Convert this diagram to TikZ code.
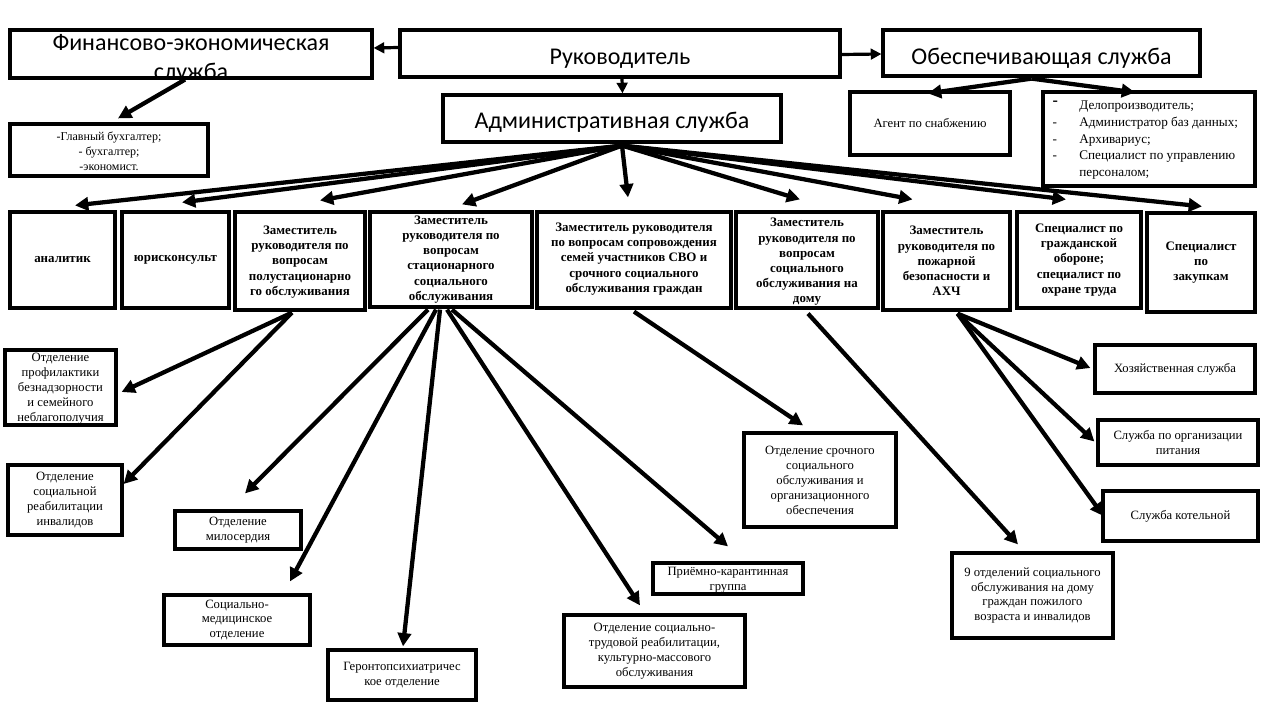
\documentclass[tikz,border=0pt]{standalone}
\usepackage{fontspec}
\setmainfont{Liberation Serif}
\newfontfamily\bigsans{Carlito}
\usetikzlibrary{arrows.meta}
\newcommand{\bx}[5]{\node[box, minimum width={(#4-#2)*0.75pt}, minimum height={(#5-#3)*0.75pt}] (#1) at ({(#2+#4)/2},{(#3+#5)/2}) {};}
\tikzset{
  box/.style={draw, line width=2.4pt, inner sep=0pt, fill=white},
  bigtxt/.style={font=\bigsans\fontsize{18}{22}\selectfont, align=center, inner sep=0pt},
  smalltxt/.style={font=\fontsize{9.5}{11.2}\selectfont, align=center, inner sep=0pt},
  boldtxt/.style={font=\bfseries\fontsize{9.7}{11.4}\selectfont, align=center, inner sep=0pt},
  arr/.style={line width=3.2pt, -{Triangle[length=10pt,width=10pt]}},
  arrthin/.style={line width=2.4pt, -{Triangle[length=8pt,width=8pt]}},
}
\begin{document}
\begin{tikzpicture}[x=0.75pt,y=-0.75pt]
\useasboundingbox (0,0) rectangle (1280,720);
\fill[white] (0,0) rectangle (1280,720);
% top level
\bx{fin}{10}{30}{372}{78}
\bx{ruk}{400}{30}{840}{77}
\bx{obesp}{883}{30}{1200}{76}
\bx{admin}{443}{95}{781}{142}
\bx{glav}{10}{124}{208}{176}
\bx{agent}{850}{92}{1010}{155}
\bx{delo}{1043}{92}{1255}{186}
% row
\bx{analit}{10}{212}{115}{308}
\bx{jur}{122}{212}{229}{308}
\bx{za}{235}{212}{365}{310}
\bx{zb}{370}{212}{532}{307}
\bx{zc}{537}{212}{731}{308}
\bx{zd}{736}{212}{878}{308}
\bx{ze}{883}{212}{1010}{310}
\bx{go}{1017}{212}{1141}{308}
\bx{zak}{1147}{213}{1255}{312}
% lower
\bx{prof}{5}{350}{116}{425}
\bx{reab}{8}{465}{122}{535}
\bx{milo}{175}{511}{301}{549}
\bx{smed}{164}{595}{310}{645}
\bx{geron}{328}{650}{476}{700}
\bx{sro}{744}{433}{896}{527}
\bx{priem}{653}{563}{803}{594}
\bx{trud}{564}{615}{745}{687}
\bx{hoz}{1095}{345}{1255}{393}
\bx{pit}{1098}{420}{1258}{465}
\bx{kot}{1103}{491}{1258}{541}
\bx{nine}{952}{553}{1113}{638}

% texts
\node[bigtxt] (fin-t) at ([shift={(0,5)}]fin.center) {Финансово-экономическая\\служба};
\node[bigtxt] (ruk-t) at ([shift={(0,5)}]ruk.center) {Руководитель};
\node[bigtxt] (obesp-t) at ([shift={(0,5)}]obesp.center) {Обеспечивающая служба};
\node[bigtxt] (admin-t) at ([shift={(0,4)}]admin.center) {Административная служба};
\node[smalltxt, font=\fontsize{9}{11.2}\selectfont] (glav-t) at ([shift={(0,1)}]glav.center) {-Главный бухгалтер;\\- бухгалтер;\\-экономист.};
\node[smalltxt] (agent-t) at (agent.center) {Агент по снабжению};
\node[smalltxt, font=\fontsize{9.9}{12.6}\selectfont, anchor=north west, align=left] (delo-t) at ([shift={(11,7)}]delo.north west)
 {\begin{tabular}{@{}p{20pt}@{}l@{}}
  \raisebox{3pt}{\bfseries\large -} & Делопроизводитель;\\
  - & Администратор баз данных;\\
  - & Архивариус;\\
  - & Специалист по управлению\\
    & персоналом;
  \end{tabular}};
\node[boldtxt] (analit-t) at (analit.center) {аналитик};
\node[boldtxt] (jur-t) at (jur.center) {юрисконсульт};
\node[boldtxt] (za-t) at ([shift={(0,1)}]za.center) {Заместитель\\руководителя по\\вопросам\\полустационарно\\го обслуживания};
\node[boldtxt] (zb-t) at (zb.center) {Заместитель\\руководителя по\\вопросам\\стационарного\\социального\\обслуживания};
\node[boldtxt] (zc-t) at ([shift={(0,-1)}]zc.center) {Заместитель руководителя\\по вопросам сопровождения\\семей участников СВО и\\срочного социального\\обслуживания граждан};
\node[boldtxt] (zd-t) at ([shift={(0,2)}]zd.center) {Заместитель\\руководителя по\\вопросам\\социального\\обслуживания на\\дому};
\node[boldtxt] (ze-t) at (ze.center) {Заместитель\\руководителя по\\пожарной\\безопасности и\\АХЧ};
\node[boldtxt] (go-t) at (go.center) {Специалист по\\гражданской\\обороне;\\специалист по\\охране труда};
\node[boldtxt] (zak-t) at (zak.center) {Специалист\\по\\закупкам};
\node[smalltxt] (prof-t) at ([shift={(0,1)}]prof.center) {Отделение\\профилактики\\безнадзорности\\и семейного\\неблагополучия};
\node[smalltxt] (reab-t) at (reab.center) {Отделение\\социальной\\реабилитации\\инвалидов};
\node[smalltxt] (milo-t) at (milo.center) {Отделение\\милосердия};
\node[smalltxt] (smed-t) at (smed.center) {Социально-\\медицинское\\отделение};
\node[smalltxt] (geron-t) at (geron.center) {Геронтопсихиатричес\\кое отделение};
\node[smalltxt] (sro-t) at (sro.center) {Отделение срочного\\социального\\обслуживания и\\организационного\\обеспечения};
\node[smalltxt] (priem-t) at ([shift={(0,2)}]priem.center) {Приёмно-карантинная\\группа};
\node[smalltxt] (trud-t) at (trud.center) {Отделение социально-\\трудовой реабилитации,\\культурно-массового\\обслуживания};
\node[smalltxt] (hoz-t) at (hoz.center) {Хозяйственная служба};
\node[smalltxt] (pit-t) at (pit.center) {Служба по организации\\питания};
\node[smalltxt] (kot-t) at (kot.center) {Служба котельной};
\node[smalltxt] (nine-t) at (nine.center) {9 отделений социального\\обслуживания на дому\\граждан пожилого\\возраста и инвалидов};

% arrows
\draw[arrthin] ([shift={(0,-6)}]ruk.west) -- ([shift={(0,-6)}]fin.east);
\draw[arrthin] ([shift={(0,1)}]ruk.east) -- ([shift={(0,1)}]obesp.west);
\draw[arrthin] ([shift={(2,0)}]ruk.south) -- ([shift={(10.5,0)}]admin.north);
\draw[arr] ([shift={(-6,0)}]fin.south) -- ([shift={(9,-4)}]glav.north);
\draw[arr] ([shift={(-10,1)}]obesp.south) -- ([shift={(-2,3)}]agent.north);
\draw[arr] ([shift={(-10,1)}]obesp.south) -- ([shift={(-14,2)}]delo.north);
\foreach \t/\dx/\dy in {analit/12.5/-5, jur/6.5/-8, za/20/-10, zb/11/-6, zc/-6/-13, zd/-7/-11, ze/-34/-11, go/-13/-11, zak/1/-5}
  \draw[arr] ([shift={(10,2)}]admin.south) -- ([shift={(\dx,\dy)}]\t.north);
\draw[arr] ([shift={(-8,1)}]za.south) -- ([shift={(4,4.5)}]prof.east);
\draw[arr] ([shift={(-8,1)}]za.south) -- ([shift={(0,-16)}]reab.east);
\draw[arr] ([shift={(-23,1)}]zb.south) -- ([shift={(7,-16)}]milo.north);
\draw[arr] ([shift={(-15,1)}]zb.south) -- ([shift={(53,-12)}]smed.north);
\draw[arr] ([shift={(-11,1)}]zb.south) -- ([shift={(1,-2)}]geron.north);
\draw[arr] ([shift={(-4,1)}]zb.south) -- ([shift={(-14.5,-8)}]trud.north);
\draw[arr] ([shift={(1,1)}]zb.south) -- ([shift={(0,-15)}]priem.north);
\draw[arr] ([shift={(0,2)}]zc.south) -- ([shift={(-17,-6)}]sro.north);
\draw[arr] ([shift={(1,4)}]zd.south) -- ([shift={(-14.5,-7)}]nine.north);
\draw[arr] ([shift={(11,2)}]ze.south) -- ([shift={(-3,-1)}]hoz.west);
\draw[arr] ([shift={(11,2)}]ze.south) -- ([shift={(-2,-1)}]pit.west);
\draw[arr] ([shift={(11,2)}]ze.south) -- ([shift={(2,0)}]kot.west);
\end{tikzpicture}
\end{document}
